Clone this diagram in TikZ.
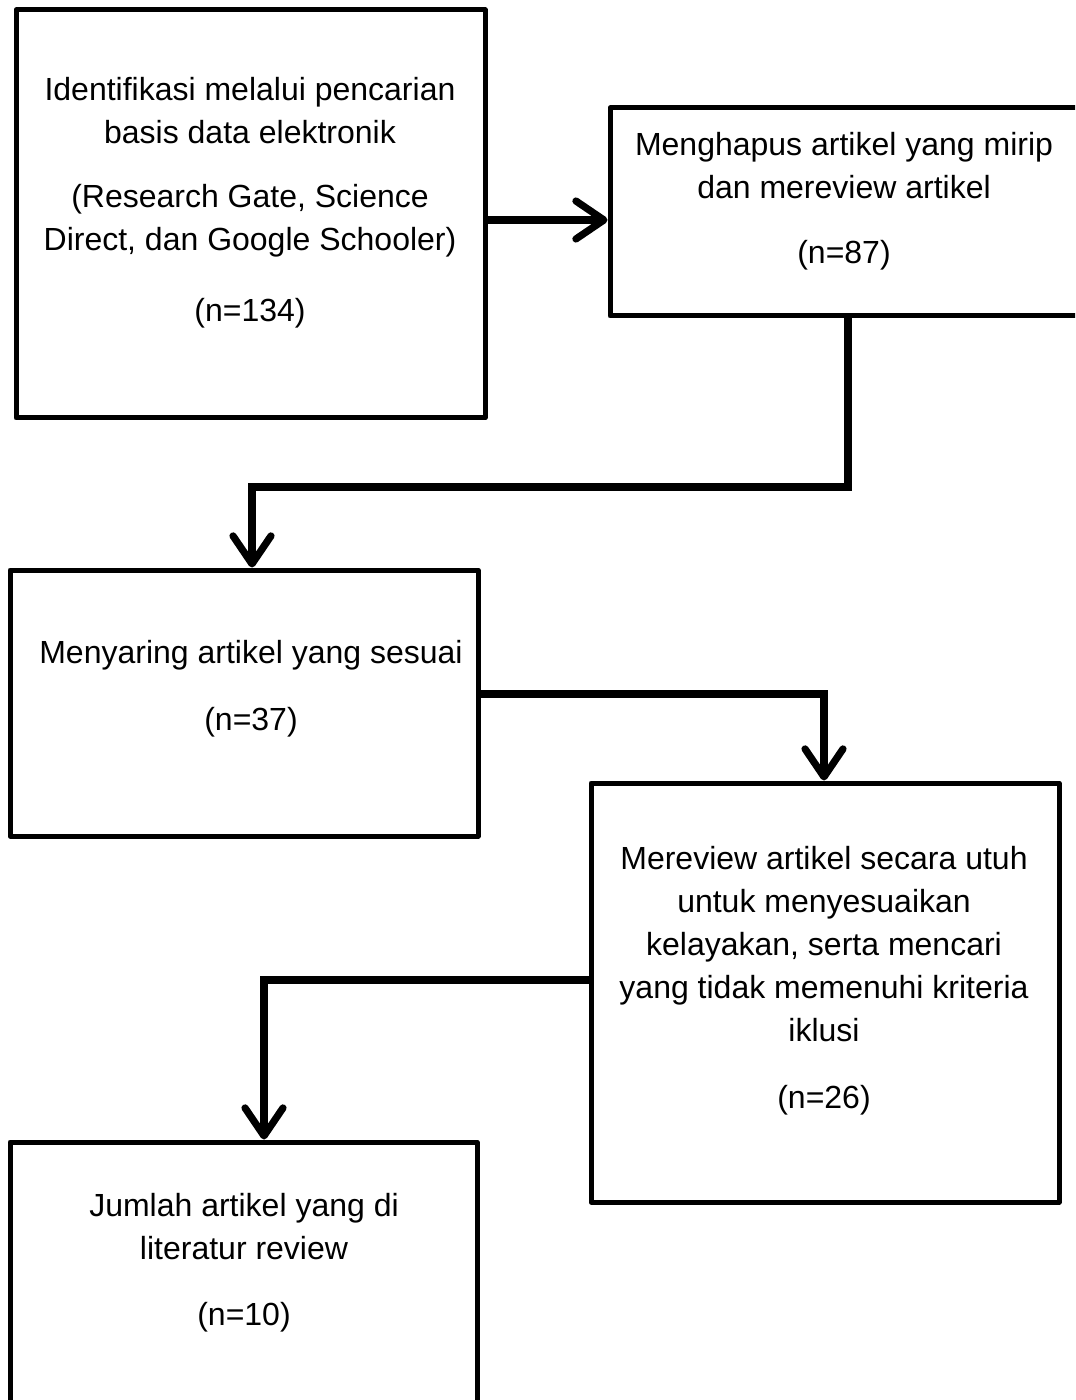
\documentclass[tikz,border=0pt]{standalone}
\usepackage{fontspec}
\setmainfont{Liberation Sans}
\usetikzlibrary{arrows.meta}
\begin{document}
\begin{tikzpicture}[x=0.5pt,y=-0.5pt,
  box/.style={draw=black, line width=2.5pt, inner sep=0pt, line join=round},
  txt/.style={align=center, inner sep=0pt, font=\fontsize{16pt}{21.5pt}\selectfont},
  arr/.style={line width=3.6pt, -{Straight Barb[length=14pt,width=19pt,round]}}]
\clip (0,0) rectangle (1075,1400);
\fill[white] (0,0) rectangle (1075,1400);
% boxes
\node[box, minimum width=234.5pt, minimum height=204pt] (b1) at (250.5,214) {};
\node[box, minimum width=234pt, minimum height=104pt] (b2) at (844,212) {};
\node[box, minimum width=234pt, minimum height=133pt] (b3) at (244,703) {};
\node[box, minimum width=234pt, minimum height=209.5pt] (b4) at (825,992.5) {};
\node[box, minimum width=233.5pt, minimum height=134pt] (b5) at (243.5,1276) {};
% texts
\node[txt] (t1a) at (250,110.5) {Identifikasi melalui pencarian\\basis data elektronik};
\node[txt] (t1b) at (250,220.5) {(Research Gate, Science\\Direct, dan Google Schooler)};
\node[txt] (t1c) at (250,313) {(n=134)};
\node[txt] (t2a) at (844,165.5) {Menghapus artikel yang mirip\\dan mereview artikel};
\node[txt] (t2b) at (844,255) {(n=87)};
\node[txt] (t3a) at (251,655) {Menyaring artikel yang sesuai};
\node[txt] (t3b) at (251,722) {(n=37)};
\node[txt] (t4a) at (824,944) {Mereview artikel secara utuh\\untuk menyesuaikan\\kelayakan, serta mencari\\yang tidak memenuhi kriteria\\iklusi};
\node[txt] (t4b) at (824,1100) {(n=26)};
\node[txt] (t5a) at (244,1227) {Jumlah artikel yang di\\literatur review};
\node[txt] (t5b) at (244,1317) {(n=10)};
% connector bends
\coordinate (y1) at (0,220);
\coordinate (c2) at (848,487);
\coordinate (c2b) at (252,487);
\coordinate (c3) at (824,694);
\coordinate (c4) at (264,980);
% connectors
\draw[arr] (b1.east |- y1) -- (b2.west |- y1);
\draw[arr] (b2.south -| c2) -- (c2) -- (c2b) -- (b3.north -| c2b);
\draw[arr] (b3.east |- c3) -- (c3) -- (b4.north -| c3);
\draw[arr] (b4.west |- c4) -- (c4) -- (b5.north -| c4);
\end{tikzpicture}
\end{document}
